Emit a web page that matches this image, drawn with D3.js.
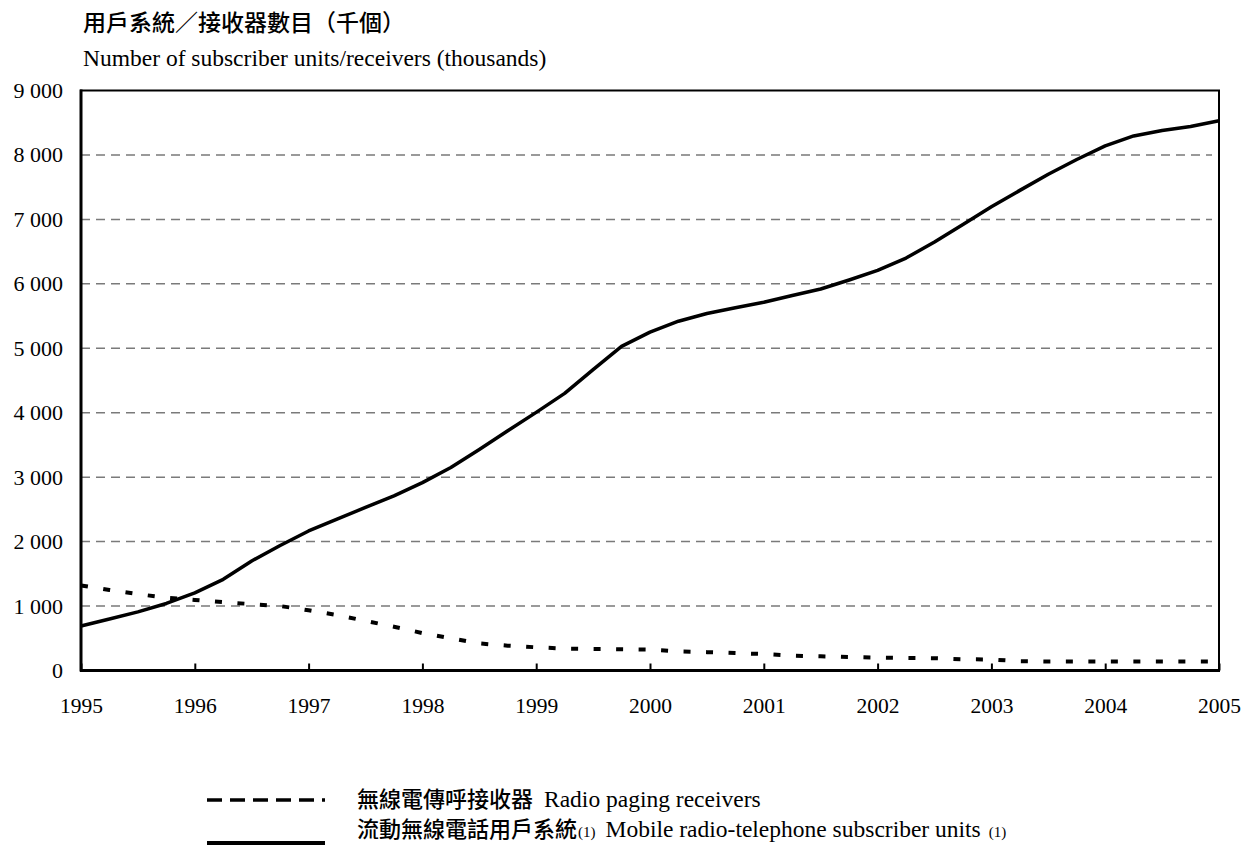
<!DOCTYPE html>
<html>
<head>
<meta charset="utf-8">
<script src="https://cdn.jsdelivr.net/npm/d3@7"></script>
<style>
  html, body { margin: 0; padding: 0; background: #ffffff; }
  svg { display: block; }
</style>
</head>
<body>
<svg id="chart" width="1244" height="846"></svg>
<script>
// Quarterly observations, 1995 to 2005 (thousands of units)
const startYear = 1995;
const periodsPerYear = 4;

const yearTicks = [1995, 1996, 1997, 1998, 1999, 2000, 2001, 2002, 2003, 2004, 2005];
const valueTicks = [0, 1000, 2000, 3000, 4000, 5000, 6000, 7000, 8000, 9000];

// Radio paging receivers
const pagingValues = [
  1320, 1250, 1185, 1130,
  1095, 1060, 1030, 1000,
  935, 860, 770, 680,
  580, 500, 420, 385,
  360, 340, 335, 330,
  325, 295, 285, 270,
  255, 230, 220, 210,
  200, 195, 190, 175,
  170, 145, 140, 140,
  140, 140, 140, 140,
  140
];

// Mobile radio-telephone subscriber units
const mobileValues = [
  690, 800, 910, 1040,
  1205, 1415, 1700, 1940,
  2165, 2350, 2530, 2710,
  2915, 3150, 3430, 3720,
  4005, 4300, 4670, 5030,
  5250, 5420, 5540, 5630,
  5715, 5820, 5920, 6060,
  6210, 6400, 6650, 6920,
  7195, 7450, 7700, 7930,
  8140, 8295, 8380, 8440,
  8530
];

const titleZh = "用戶系統／接收器數目（千個）";
const titleEn = "Number of subscriber units/receivers (thousands)";
const legendPagingZh = "無線電傳呼接收器";
const legendPagingEn = "Radio paging receivers";
const legendMobileZh = "流動無線電話用戶系統";
const legendMobileEn = "Mobile radio-telephone subscriber units";
const noteMark = "(1)";

const SERIF = '"Liberation Serif", "Times New Roman", serif';
const CJK = '"Noto Sans CJK TC", "Noto Sans CJK SC", sans-serif';

const svg = d3.select("#chart");

const plot = { left: 81, right: 1219, top: 90.5, bottom: 670.5 };

const x = d3.scaleLinear()
  .domain([1995, 2005])
  .range([plot.left, plot.right]);

const y = d3.scaleLinear()
  .domain([0, 9000])
  .range([plot.bottom, plot.top]);

// Thousands grouped with a space, e.g. "9 000"
const locale = d3.formatLocale({ decimal: ".", thousands: " ", grouping: [3], currency: ["", ""] });
const fmt = locale.format(",");

const timeOf = i => startYear + i / periodsPerYear;

// Horizontal dashed gridlines
svg.append("g")
  .selectAll("line")
  .data(valueTicks.filter(v => v > 0 && v < 9000))
  .join("line")
  .attr("x1", plot.left)
  .attr("x2", plot.right - 7)
  .attr("y1", d => y(d))
  .attr("y2", d => y(d))
  .attr("stroke", "#7a7a7a")
  .attr("stroke-width", 1.5)
  .attr("stroke-dasharray", "9,6");

// Y axis labels (no tick marks)
const yAxis = d3.axisLeft(y)
  .tickValues(valueTicks)
  .tickFormat(fmt)
  .tickSize(0)
  .tickPadding(18);

svg.append("g")
  .attr("transform", `translate(${plot.left},0)`)
  .call(yAxis)
  .call(g => g.select(".domain").remove())
  .call(g => g.selectAll("text")
    .style("font-family", SERIF)
    .style("font-size", "22px")
    .attr("fill", "#000"));

// X axis with inward ticks
const xAxis = d3.axisBottom(x)
  .tickValues(yearTicks)
  .tickFormat(d3.format("d"))
  .tickSize(-7)
  .tickPadding(27);

svg.append("g")
  .attr("transform", `translate(0,${plot.bottom})`)
  .call(xAxis)
  .call(g => g.select(".domain").remove())
  .call(g => g.selectAll(".tick line").attr("stroke", "#000").attr("stroke-width", 2))
  .call(g => g.selectAll("text")
    .style("font-family", SERIF)
    .style("font-size", "21.5px")
    .attr("fill", "#000"));

// Plot frame
svg.append("rect")
  .attr("x", plot.left)
  .attr("y", plot.top)
  .attr("width", plot.right - plot.left)
  .attr("height", plot.bottom - plot.top)
  .attr("fill", "none")
  .attr("stroke", "#000")
  .attr("stroke-width", 2);

svg.append("line")
  .attr("x1", plot.left).attr("x2", plot.left)
  .attr("y1", plot.top - 1).attr("y2", plot.bottom + 1)
  .attr("stroke", "#000").attr("stroke-width", 3);
svg.append("line")
  .attr("x1", plot.left - 1).attr("x2", plot.right + 1)
  .attr("y1", plot.bottom).attr("y2", plot.bottom)
  .attr("stroke", "#000").attr("stroke-width", 3);

// Series lines
const line = d3.line()
  .x((d, i) => x(timeOf(i)))
  .y(d => y(d));

svg.append("path")
  .datum(pagingValues)
  .attr("d", line)
  .attr("fill", "none")
  .attr("stroke", "#000")
  .attr("stroke-width", 4)
  .attr("stroke-dasharray", "7,15.5");

svg.append("path")
  .datum(mobileValues)
  .attr("d", line)
  .attr("fill", "none")
  .attr("stroke", "#000")
  .attr("stroke-width", 3.5)
  .attr("stroke-linejoin", "round");

// Titles
svg.append("text")
  .attr("x", 83)
  .attr("y", 31)
  .style("font-family", CJK)
  .style("font-size", "23px")
  .attr("font-weight", 500)
  .text(titleZh);

svg.append("text")
  .attr("x", 83)
  .attr("y", 66)
  .style("font-family", SERIF)
  .style("font-size", "23.5px")
  .text(titleEn);

// Legend
const legend = svg.append("g");

legend.append("line")
  .attr("x1", 207).attr("x2", 325)
  .attr("y1", 800).attr("y2", 800)
  .attr("stroke", "#000").attr("stroke-width", 3.5)
  .attr("stroke-dasharray", "15,8");

legend.append("line")
  .attr("x1", 207).attr("x2", 325)
  .attr("y1", 843).attr("y2", 843)
  .attr("stroke", "#000").attr("stroke-width", 4);

const row1 = legend.append("text").attr("x", 357).attr("y", 807);
row1.append("tspan")
  .style("font-family", CJK)
  .style("font-size", "22px")
  .attr("font-weight", 500)
  .text(legendPagingZh);
row1.append("tspan")
  .style("font-family", SERIF)
  .style("font-size", "23.5px")
  .attr("dx", 11)
  .text(legendPagingEn);

const row2 = legend.append("text").attr("x", 357).attr("y", 837);
row2.append("tspan")
  .style("font-family", CJK)
  .style("font-size", "22px")
  .attr("font-weight", 500)
  .text(legendMobileZh);
row2.append("tspan")
  .style("font-family", SERIF)
  .style("font-size", "15px")
  .attr("dx", 1)
  .text(noteMark);
row2.append("tspan")
  .style("font-family", SERIF)
  .style("font-size", "23.5px")
  .attr("dx", 10)
  .text(legendMobileEn);
row2.append("tspan")
  .style("font-family", SERIF)
  .style("font-size", "15px")
  .attr("dx", 8)
  .text(noteMark);
</script>
</body>
</html>
